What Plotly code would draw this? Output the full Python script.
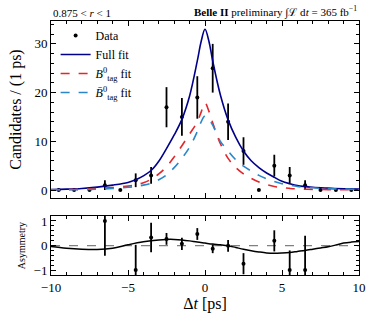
import plotly.graph_objects as go
from plotly.subplots import make_subplots

# binned data (top panel)
bin_t = [-9.5, -8.5, -7.5, -6.5, -5.5, -4.5, -3.5, -2.5, -1.5, -0.5,
         0.5, 1.5, 2.5, 3.5, 4.5, 5.5, 6.5, 7.5, 8.5, 9.5]
counts = [0, 0, 0, 1, 0, 2, 3, 17, 15, 19, 25, 14, 8, 0, 5, 3, 1, 0, 0, 0]
count_err = [0, 0, 0, 1, 0, 1.41, 1.73, 4.12, 3.87, 4.36,
             5, 3.74, 2.83, 0, 2.24, 1.73, 1, 0, 0, 0]

# fit curves
curve_t = [-10, -9, -8, -7, -6, -5, -4.5, -4, -3.5, -3, -2.5, -2, -1.5, -1, -0.5, -0.25,
           0, 0.25, 0.5, 1, 1.5, 2, 2.5, 3, 3.5, 4, 4.5, 5, 5.5, 6, 7, 8, 9, 10]
full_fit = [0.1, 0.18, 0.32, 0.6, 1.0, 1.55, 2.1, 2.9, 4.0, 5.9, 8.5, 11.3, 14.5, 19.3, 26.5, 30.5,
            33.0, 30.6, 26.5, 19.5, 14.4, 10.8, 8.0, 6.0, 4.6, 3.5, 2.6, 1.8, 1.3, 0.9, 0.55, 0.38, 0.26, 0.18]
b0_fit = [0.05, 0.08, 0.15, 0.3, 0.5, 0.8, 1.05, 1.5, 2.2, 3.3, 4.8, 6.8, 9.1, 11.5, 14.0, 16.0,
          17.9, 16.2, 13.8, 9.5, 6.5, 4.6, 3.3, 2.4, 1.65, 1.1, 0.72, 0.48, 0.33, 0.22, 0.12, 0.08, 0.06, 0.05]
b0bar_fit = [0.03, 0.05, 0.08, 0.15, 0.3, 0.55, 0.75, 1.0, 1.4, 2.1, 3.1, 4.6, 6.5, 8.8, 12.0, 14.0,
             15.2, 14.5, 13.3, 10.0, 8.0, 6.2, 4.9, 3.9, 3.0, 2.3, 1.75, 1.3, 1.0, 0.72, 0.45, 0.28, 0.18, 0.12]

# asymmetry panel
asym_t = [-6.5, -4.5, -3.5, -2.5, -1.5, -0.5, 0.5, 1.5, 2.5, 4.5, 5.5, 6.5]
asym = [1.0, -1.0, 0.33, 0.27, 0.07, 0.47, -0.13, -0.01, -0.74, 0.19, -1.0, -1.0]
asym_err = [1.42, 1.03, 0.6, 0.24, 0.25, 0.24, 0.18, 0.24, 0.43, 0.43, 0.8, 1.4]

asym_curve_t = [-10, -9, -8, -7, -6, -5, -4, -3, -2.5, -2, -1.5, -1, -0.5, 0, 0.5, 1, 1.5,
                2, 2.5, 3, 3.5, 4, 4.5, 5, 5.5, 6, 6.5, 7, 7.5, 8, 8.5, 9, 9.5, 10]
asym_curve = [-0.04, -0.11, -0.15, -0.16, -0.11, 0.03, 0.15, 0.23, 0.25, 0.25, 0.23, 0.19, 0.14,
              0.1, 0.06, 0.03, -0.01, -0.08, -0.15, -0.21, -0.26, -0.3, -0.31, -0.3, -0.28,
              -0.24, -0.2, -0.15, -0.1, -0.05, 0.02, 0.1, 0.14, 0.16]

FONT = "Liberation Serif"

fig = make_subplots(rows=2, cols=1, shared_xaxes=True)

fig.add_trace(go.Scatter(
    x=bin_t, y=counts, mode="markers", name="Data",
    marker=dict(color="black", size=4),
    error_y=dict(type="data", array=count_err, color="black", thickness=1.8, width=0)
), row=1, col=1)
fig.add_trace(go.Scatter(
    x=curve_t, y=full_fit, mode="lines", name="Full fit", line_shape="spline",
    line=dict(color="#00008b", width=1.6)
), row=1, col=1)
fig.add_trace(go.Scatter(
    x=curve_t, y=b0_fit, mode="lines", name="<i>B</i><sup>0</sup><sub>tag</sub> fit",
    line_shape="spline", line=dict(color="#e3262b", width=1.6, dash="dash")
), row=1, col=1)
fig.add_trace(go.Scatter(
    x=curve_t, y=b0bar_fit, mode="lines", name="<i>B\u0304</i><sup>0</sup><sub>tag</sub> fit",
    line_shape="spline", line=dict(color="#2a86c8", width=1.6, dash="dash")
), row=1, col=1)

fig.add_trace(go.Scatter(
    x=[-10, 10], y=[0, 0], mode="lines", showlegend=False,
    line=dict(color="gray", width=1.3, dash="dash")
), row=2, col=1)
fig.add_trace(go.Scatter(
    x=asym_curve_t, y=asym_curve, mode="lines", showlegend=False, line_shape="spline",
    line=dict(color="black", width=1.5)
), row=2, col=1)
fig.add_trace(go.Scatter(
    x=asym_t, y=asym, mode="markers", showlegend=False,
    marker=dict(color="black", size=4),
    error_y=dict(type="data", array=asym_err, color="black", thickness=1.8, width=0)
), row=2, col=1)

axis_style = dict(showline=True, linecolor="black", linewidth=1, mirror="allticks",
                  ticks="inside", ticklen=5, tickcolor="black", showgrid=False, zeroline=False,
                  automargin=False,
                  tickfont=dict(family=FONT, size=13, color="black"))

fig.update_xaxes(range=[-10, 10], dtick=5, minor=dict(dtick=1, ticks="inside", ticklen=3, tickcolor="black"),
                 **axis_style)
fig.update_xaxes(showticklabels=False, row=1, col=1)
fig.update_xaxes(tickvals=[-10, -5, 0, 5, 10], ticktext=["\u221210", "\u22125", "0", "5", "10"],
                 title=dict(text="\u0394<i>t</i> [ps]", font=dict(family=FONT, size=16, color="black"), standoff=2),
                 row=2, col=1)

fig.update_yaxes(range=[-1.65, 34.7], dtick=10,
                 minor=dict(dtick=2, ticks="inside", ticklen=3, tickcolor="black"),
                 title=dict(text="Candidates / (1 ps)", font=dict(family=FONT, size=16, color="black"), standoff=8),
                 row=1, col=1, **axis_style)
fig.update_yaxes(range=[-1.2, 1.2], tickvals=[-1, 0, 1], ticktext=["\u22121", "0", "1"],
                 minor=dict(dtick=0.2, ticks="inside", ticklen=3, tickcolor="black"),
                 title=dict(text="Asymmetry", font=dict(family=FONT, size=10, color="black"), standoff=6),
                 row=2, col=1, **axis_style)

fig.update_layout(
    width=373, height=325,
    margin=dict(l=51, r=14, t=21, b=50),
    plot_bgcolor="white", paper_bgcolor="white",
    font=dict(family=FONT, color="black"),
    yaxis=dict(domain=[0.303, 1.0]),
    yaxis2=dict(domain=[0.0, 0.232]),
    legend=dict(x=0.015, y=1.0, xanchor="left", yanchor="top", bgcolor="rgba(0,0,0,0)",
                font=dict(family=FONT, size=12, color="black"), tracegroupgap=0, itemwidth=30),
    annotations=[
        dict(text="0.875 < <i>r</i> < 1", xref="paper", yref="paper", x=0, y=1.0,
             xanchor="left", yanchor="bottom", showarrow=False, font=dict(family=FONT, size=11)),
        dict(text="<b>Belle II</b> preliminary \u222b\u2112 d<i>t</i> = 365 fb<sup>\u22121</sup>",
             xref="paper", yref="paper", x=1, y=1.0, xanchor="right", yanchor="bottom",
             showarrow=False, font=dict(family=FONT, size=11)),
    ],
)

fig.write_html("out.html", config={"displayModeBar": False})

# drop the default page margin so the figure sits at the window origin
with open("out.html", encoding="utf-8") as f:
    html = f.read()
html = html.replace("<body>", '<body style="margin:0">', 1)
with open("out.html", "w", encoding="utf-8") as f:
    f.write(html)
